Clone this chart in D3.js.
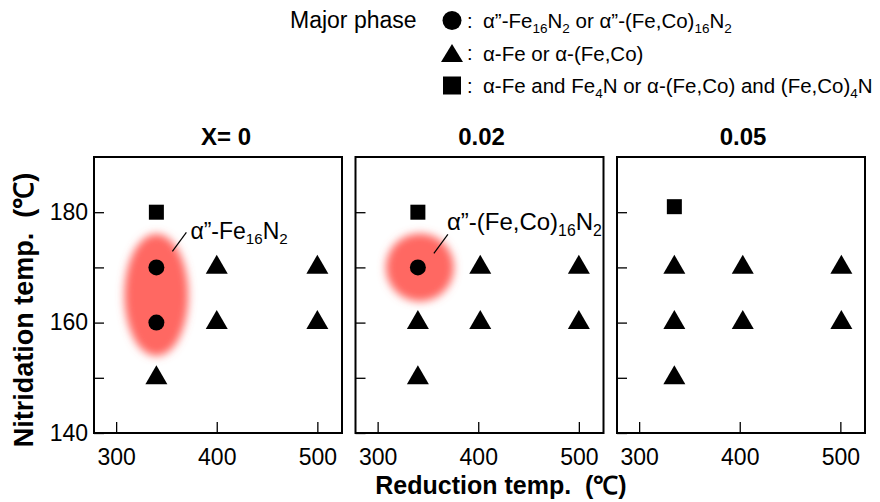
<!DOCTYPE html>
<html>
	<head>
		<title>Phase map</title>
		<script src="https://d3js.org/d3.v7.min.js"></script>
		<style>
			body { margin: 0; background: #fff; }
			svg text { font-family: "Liberation Sans", Arial, sans-serif; fill: #000; }
		</style>
	</head>
	<body>
		<div class="phasechart"></div>
		<script>
			//data
			var panelTitles = ["X= 0", "0.02", "0.05"];
			var xTicks = [300, 400, 500];
			var yTicks = [140, 150, 160, 170, 180];
			var yLabels = [140, 160, 180];

			// [panel, reduction temp, nitridation temp]
			var circlePoints = [[0, 340, 170], [0, 340, 160], [1, 340, 170]];
			var trianglePoints = [
				[0, 400, 170], [0, 500, 170], [0, 400, 160], [0, 500, 160], [0, 340, 150],
				[1, 402, 170], [1, 500, 170], [1, 340, 160], [1, 402, 160], [1, 500, 160], [1, 340, 150],
				[2, 335, 170], [2, 403, 170], [2, 501, 170], [2, 335, 160], [2, 403, 160], [2, 501, 160], [2, 335, 150]
			];
			var squarePoints = [[0, 340, 180], [1, 340, 180], [2, 335, 181]];

			// red highlight centres [panel, reduction, nitridation]
			var glowSpots = [[0, 340, 165], [1, 342, 170]];
			var annotationLabels = ["α”-Fe_{16}N_{2}", "α”-(Fe,Co)_{16}N_{2}"];
			var annotationPoints = [[0, 340, 170], [1, 340, 170]];

			var legendTitle = "Major phase";
			var legendLabels = [
				"α”-Fe_{16}N_{2} or α”-(Fe,Co)_{16}N_{2}",
				"α-Fe or α-(Fe,Co)",
				"α-Fe and Fe_{4}N or α-(Fe,Co) and (Fe,Co)_{4}N"
			];

			(function() {
				//layout
				var width = 880, height = 502;
				var panelLeft = 94, panelStep = 261.5, panelW = 248;
				var plotTop = 157, plotBottom = 433;

				var svg = d3.select(".phasechart")
					.append("svg")
					.attr("width", width)
					.attr("height", height);

				var defs = svg.append("defs");
				defs.append("filter")
					.attr("id", "glow")
					.attr("x", "-50%").attr("y", "-50%")
					.attr("width", "200%").attr("height", "200%")
					.append("feGaussianBlur")
					.attr("stdDeviation", 4.5);

				var x = d3.scaleLinear().domain([278, 524.5]).range([0, panelW]);
				var y = d3.scaleLinear().domain([140, 190]).range([plotBottom, plotTop]);

				// text with _{sub} parts
				function richText(sel, str, size) {
					var parts = str.split(/_\{([^}]*)\}/);
					var shift = size * 0.22;
					var lowered = false;
					parts.forEach(function(p, i) {
						if (p === "") return;
						var ts = sel.append("tspan").text(p);
						if (i % 2 == 1) {
							ts.attr("dy", shift).style("font-size", (size * 0.66) + "px");
							lowered = true;
						} else if (lowered) {
							ts.attr("dy", -shift);
							lowered = false;
						}
					});
				}

				function trianglePath(w, h) {
					return "M0," + (-2 * h / 3) + "L" + (w / 2) + "," + (h / 3) + "L" + (-w / 2) + "," + (h / 3) + "Z";
				}

				var glowSize = [[32, 61], [34, 34]];

				panelTitles.forEach(function(title, pi) {
					var g = svg.append("g")
						.attr("class", "panel")
						.attr("transform", "translate(" + (panelLeft + pi * panelStep) + ",0)");

					// glow
					glowSpots.forEach(function(s, si) {
						if (s[0] != pi) return;
						g.append("ellipse")
							.attr("cx", x(s[1]))
							.attr("cy", y(s[2]))
							.attr("rx", glowSize[si][0])
							.attr("ry", glowSize[si][1])
							.style("fill", "#ff6862")
							.attr("filter", "url(#glow)");
					});

					// axes
					var yAxis = d3.axisLeft(y)
						.tickValues(yTicks)
						.tickSize(-10)
						.tickPadding(6)
						.tickFormat(function(d) { return (pi == 0 && yLabels.indexOf(d) >= 0) ? d : ""; });
					var ya = g.append("g").attr("class", "y axis").call(yAxis);

					var xAxis = d3.axisBottom(x)
						.tickValues(xTicks)
						.tickSize(-11)
						.tickPadding(16);
					var xa = g.append("g").attr("class", "x axis")
						.attr("transform", "translate(0," + plotBottom + ")")
						.call(xAxis);

					[ya, xa].forEach(function(a) {
						a.select(".domain").remove();
						a.selectAll("line").style("stroke", "#000").style("stroke-width", 1.3);
						a.selectAll("text")
							.style("font-size", "23px")
							.style("font-family", "'Liberation Sans', Arial, sans-serif")
							.style("fill", "#000");
					});

					// border
					g.append("rect")
						.attr("x", 0).attr("y", plotTop)
						.attr("width", panelW).attr("height", plotBottom - plotTop)
						.style("fill", "none").style("stroke", "#000").style("stroke-width", 2);

					// title
					g.append("text")
						.attr("x", panelW / 2 + (pi == 0 ? 8 : 2))
						.attr("y", 145)
						.attr("text-anchor", "middle")
						.style("font-size", "24px")
						.style("font-weight", "bold")
						.text(title);

					// points
					g.selectAll("path.tri")
						.data(trianglePoints.filter(function(d) { return d[0] == pi; }))
						.enter().append("path")
						.attr("class", "tri")
						.attr("d", trianglePath(22, 19))
						.attr("transform", function(d) { return "translate(" + x(d[1]) + "," + y(d[2]) + ")"; })
						.style("fill", "#000");

					g.selectAll("rect.sq")
						.data(squarePoints.filter(function(d) { return d[0] == pi; }))
						.enter().append("rect")
						.attr("class", "sq")
						.attr("x", function(d) { return x(d[1]) - 7.5; })
						.attr("y", function(d) { return y(d[2]) - 7.5; })
						.attr("width", 15).attr("height", 15)
						.style("fill", "#000");

					g.selectAll("circle.pt")
						.data(circlePoints.filter(function(d) { return d[0] == pi; }))
						.enter().append("circle")
						.attr("class", "pt")
						.attr("cx", function(d) { return x(d[1]); })
						.attr("cy", function(d) { return y(d[2]); })
						.attr("r", 8)
						.style("fill", "#000");

					// annotation
					annotationPoints.forEach(function(a, ai) {
						if (a[0] != pi) return;
						var px = x(a[1]), py = y(a[2]);
						var off = ai == 0 ? [16, -16, 30, -35, 34, -28] : [16, -14, 30, -33, 29, -37];
						var fs = ai == 0 ? 23 : 24;
						g.append("line")
							.attr("x1", px + off[0]).attr("y1", py + off[1])
							.attr("x2", px + off[2]).attr("y2", py + off[3])
							.style("stroke", "#000").style("stroke-width", 1.2);
						var t = g.append("text")
							.attr("x", px + off[4])
							.attr("y", py + off[5])
							.style("font-size", fs + "px");
						richText(t, annotationLabels[ai], fs);
					});
				});

				// axis titles
				svg.append("text")
					.attr("x", 501)
					.attr("y", 494)
					.attr("text-anchor", "middle")
					.style("font-size", "25px")
					.style("font-weight", "bold")
					.style("white-space", "pre")
					.text("Reduction temp.  (℃)");

				svg.append("text")
					.attr("transform", "translate(33,310) rotate(-90)")
					.attr("text-anchor", "middle")
					.style("font-size", "27px")
					.style("font-weight", "bold")
					.style("white-space", "pre")
					.text("Nitridation temp.  (℃)");

				// legend
				var legend = svg.append("g").attr("class", "legend");
				legend.append("text")
					.attr("x", 290)
					.attr("y", 28)
					.style("font-size", "23px")
					.text(legendTitle);

				var rowY = [20.5, 53, 85.5];
				legend.append("circle").attr("cx", 452).attr("cy", rowY[0]).attr("r", 9.5).style("fill", "#000");
				legend.append("path").attr("d", trianglePath(22, 18))
					.attr("transform", "translate(452," + (rowY[1] + 3) + ")").style("fill", "#000");
				legend.append("rect").attr("x", 443).attr("y", rowY[2] - 9).attr("width", 18).attr("height", 18).style("fill", "#000");

				legendLabels.forEach(function(l, i) {
					legend.append("text")
						.attr("x", 467)
						.attr("y", rowY[i] + 7)
						.style("font-size", "20px")
						.text(":");
					var t = legend.append("text")
						.attr("x", 483)
						.attr("y", rowY[i] + 7.5)
						.style("font-size", "20.5px");
					richText(t, l, 20.5);
				});
			})();
		</script>
	</body>
</html>
